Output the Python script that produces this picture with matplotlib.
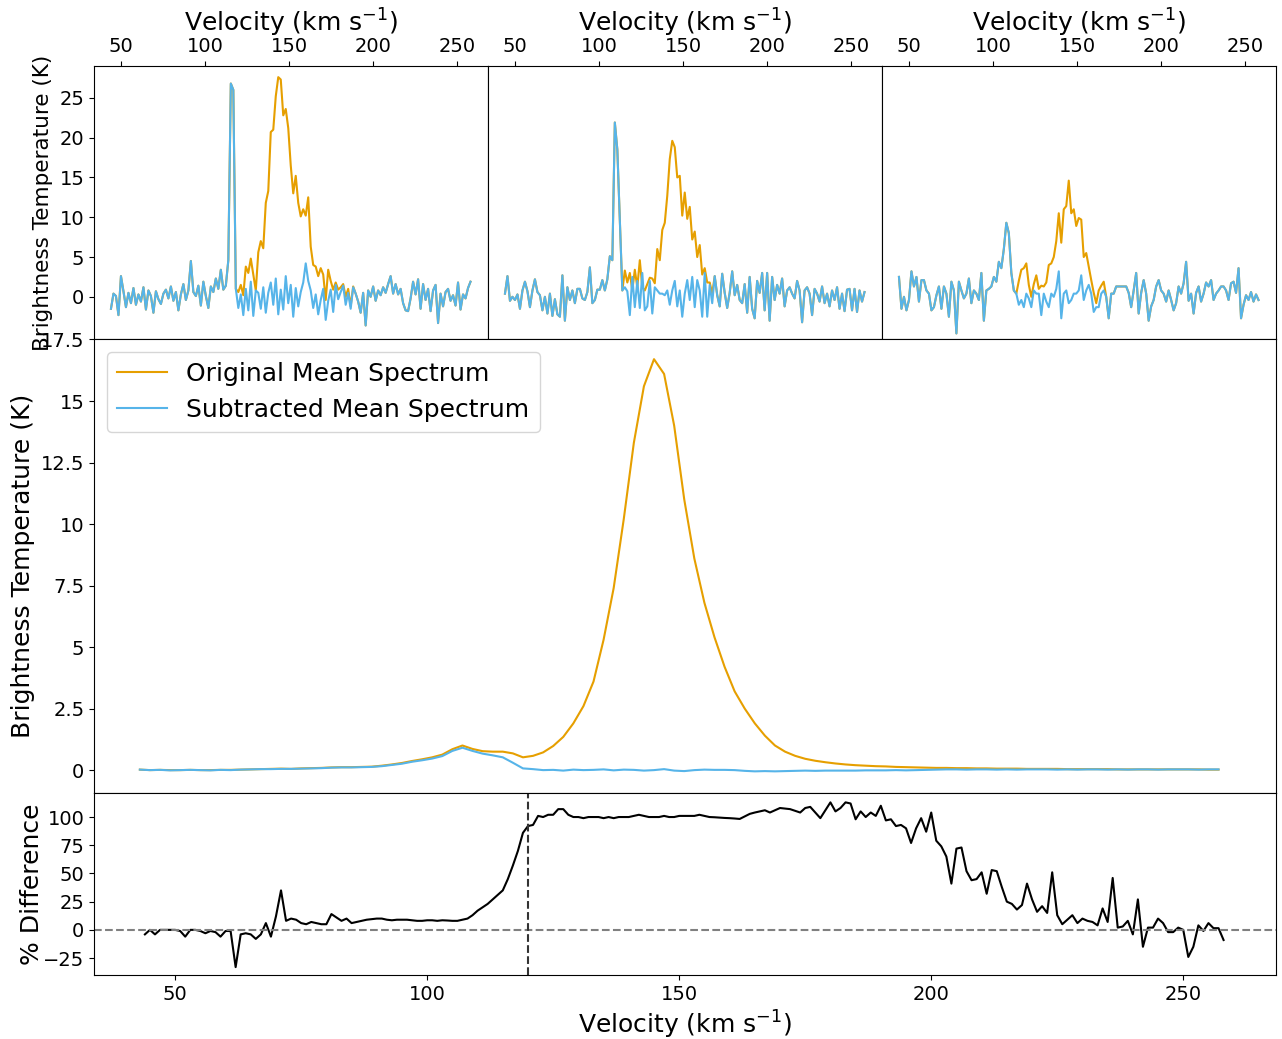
import numpy as np
import matplotlib.pyplot as plt
from matplotlib.ticker import FuncFormatter

ORANGE = "#E69F00"
BLUE = "#56B4E9"
VLABEL = r"Velocity (km s$^{-1}$)"
TLABEL = "Brightness Temperature (K)"

# channel velocities (km/s)
vel_top = np.linspace(44, 258, 145)
vel_mean = np.arange(43, 258, 2)
vel_diff = np.arange(44, 259)

# --- three single-position spectra (K) ---
orig_1 = [
    -1.5, 0.4, 0.1, -2.3, 2.6, 0.7, -1.3, 0.5, -0.8, 1.1,
    -1.0, 0.3, -0.6, 1.2, -1.6, 0.8, 0.1, -2.0, 0.7, -0.3,
    -0.9, 0.4, 0.9, -0.2, 1.3, -0.5, 0.6, -1.7, 0.3, 1.6,
    -0.4, 0.8, 4.5, 0.6, 0.1, 1.4, -1.1, 1.9, 0.1, -1.4,
    1.3, 0.6, 2.3, 1.0, 3.4, 0.9, 1.4, 4.6, 26.8, 26.0,
    1.0, 0.6, 1.5, 0.2, 3.8, 3.0, 4.8, 2.8, 0.8, 5.6,
    7.0, 6.1, 11.8, 13.3, 20.7, 21.0, 25.2, 27.6, 27.3, 22.8,
    23.6, 21.2, 16.5, 13.0, 15.2, 11.8, 10.1, 11.0, 10.2, 12.5,
    6.3, 4.0, 3.8, 2.6, 3.6, 2.8, -0.4, 3.4, 2.0, 0.9,
    1.8, 0.9, 1.2, 1.6, 0.0, 1.0, -1.2, 1.3, 0.4, -0.6,
    -2.0, 0.5, -3.6, 0.8, 0.0, 1.3, -0.5, 0.8, 0.2, 1.2,
    0.5, 1.6, 2.6, 0.4, 1.6, 0.3, 1.0, -0.8, -1.7, -1.8,
    -0.2, 1.9, 0.3, 2.2, -1.5, 1.6, -0.4, 1.0, -1.8, 0.8,
    1.5, -3.3, 0.4, -1.2, 0.6, 1.0, -0.5, 0.2, -1.1, 1.8,
    -1.6, 0.3, -0.2, 1.1, 1.9,
]
sub_1 = [
    -1.5, 0.4, 0.1, -2.3, 2.6, 0.7, -1.3, 0.5, -0.8, 1.1,
    -1.0, 0.3, -0.6, 1.2, -1.6, 0.8, 0.1, -2.0, 0.7, -0.3,
    -0.9, 0.4, 0.9, -0.2, 1.3, -0.5, 0.6, -1.7, 0.3, 1.6,
    -0.4, 0.8, 4.5, 0.6, 0.1, 1.4, -1.1, 1.9, 0.1, -1.4,
    1.3, 0.6, 2.3, 1.0, 3.4, 0.9, 1.4, 4.6, 26.8, 26.0,
    1.0, -1.4, 0.3, -2.3, 1.0, -1.7, 1.9, -2.4, 0.8, 0.5,
    -1.5, 1.2, -2.0, 0.5, 1.8, -1.0, 2.3, -2.2, 0.9, -1.6,
    2.6, -0.8, 1.5, -2.5, 1.1, -1.2, 0.6, 1.8, 4.2, 2.0,
    0.8, -1.4, 0.3, -2.2, -0.4, 1.0, -2.9, -0.5, 0.9, -1.9,
    1.5, -0.3, 0.6, 1.4, -1.0, 0.5, -1.5, 1.2, 0.4, -0.6,
    -2.0, 0.5, -3.6, 0.8, 0.0, 1.3, -0.5, 0.8, 0.2, 1.2,
    0.5, 1.6, 2.6, 0.4, 1.6, 0.3, 1.0, -0.8, -1.7, -1.8,
    -0.2, 1.9, 0.3, 2.2, -1.5, 1.6, -0.4, 1.0, -1.8, 0.8,
    1.5, -3.3, 0.4, -1.2, 0.6, 1.0, -0.5, 0.2, -1.1, 1.8,
    -1.6, 0.3, -0.2, 1.1, 1.9,
]

orig_2 = [
    0.4, 2.6, -0.5, 0.0, -0.4, 0.3, -1.5, 0.8, 1.9, 0.7,
    -1.3, 0.8, 2.2, 0.6, 0.2, -1.7, 0.0, -2.1, 0.4, -2.4,
    -0.3, -2.2, -2.5, 2.7, -3.0, 1.2, -0.4, 0.8, -0.8, 1.0,
    1.0, -0.2, -0.4, 0.6, 3.7, -0.8, -0.4, 0.9, 0.9, 2.1,
    0.8, 2.2, 5.1, 4.6, 21.9, 18.5, 9.5, 0.8, 3.3, 1.8,
    3.0, 0.8, 3.4, 1.2, 4.6, 1.2, 0.8, 1.6, 2.4, 2.3,
    1.7, 6.0, 4.6, 8.4, 9.3, 12.7, 17.3, 19.6, 18.8, 15.0,
    15.2, 10.2, 13.1, 9.8, 11.3, 7.2, 8.2, 5.0, 6.5, 2.8,
    3.6, 1.8, 1.8, 0.4, 2.6, 0.2, -1.2, 2.9, 0.5, -1.4,
    0.5, 3.2, 0.2, 1.5, -0.4, -0.8, 1.6, -2.0, 2.5, -1.5,
    -2.7, 2.0, 0.5, 3.0, -1.7, 3.0, -3.0, 2.5, -0.4, 1.5,
    0.4, 2.3, -1.2, 0.8, 1.2, 0.4, -0.2, 2.0, 0.8, -3.2,
    0.8, 1.2, 0.4, -2.3, 1.0, 0.4, -0.6, 1.3, -0.8, 0.4,
    -1.2, 0.8, -0.4, 1.2, -1.5, 0.4, -1.8, 0.9, 1.0, -1.7,
    1.0, -1.9, 0.8, -0.6, 0.6,
]
sub_2 = [
    0.4, 2.6, -0.5, 0.0, -0.4, 0.3, -1.5, 0.8, 1.9, 0.7,
    -1.3, 0.8, 2.2, 0.6, 0.2, -1.7, 0.0, -2.1, 0.4, -2.4,
    -0.3, -2.2, -2.5, 2.7, -3.0, 1.2, -0.4, 0.8, -0.8, 1.0,
    1.0, -0.2, -0.4, 0.6, 3.7, -0.8, -0.4, 0.9, 0.9, 2.1,
    0.8, 2.2, 5.1, 4.6, 21.9, 18.5, 9.5, 0.8, 1.2, 0.7,
    -2.3, 2.5, -1.3, 2.0, -1.4, 3.0, -1.7, -1.2, 2.0, -2.1,
    1.2, 0.8, 0.4, 0.4, 0.2, 0.8, -1.0, 0.8, 2.0, -1.2,
    0.8, -2.5, 0.4, 2.1, -0.4, 2.5, -1.3, 2.1, 0.8, -2.5,
    3.0, -2.5, 1.5, -0.8, 2.6, 0.2, -1.2, 2.9, 0.5, -1.4,
    0.5, 3.2, 0.2, 1.5, -0.4, -0.8, 1.6, -2.0, 2.5, -1.5,
    -2.7, 2.0, 0.5, 3.0, -1.7, 3.0, -3.0, 2.5, -0.4, 1.5,
    0.4, 2.3, -1.2, 0.8, 1.2, 0.4, -0.2, 2.0, 0.8, -3.2,
    0.8, 1.2, 0.4, -2.3, 1.0, 0.4, -0.6, 1.3, -0.8, 0.4,
    -1.2, 0.8, -0.4, 1.2, -1.5, 0.4, -1.8, 0.9, 1.0, -1.7,
    1.0, -1.9, 0.8, -0.6, 0.6,
]

orig_3 = [
    2.5, -1.5, 0.0, -1.7, -0.4, 3.2, 1.3, 2.5, -0.6, 2.1,
    2.1, 0.8, 0.4, -1.7, -1.3, 0.2, 1.3, -1.5, 1.3, 0.4,
    -2.5, 1.9, 0.8, -4.6, 1.9, 0.8, -0.2, 0.4, 2.3, -0.8,
    0.8, 0.4, -0.4, 3.0, -3.0, 0.8, 1.0, 1.3, 2.5, 1.9,
    4.4, 3.6, 6.0, 9.3, 8.0, 3.0, 0.8, 0.4, 2.0, 3.4,
    3.6, 4.2, 1.5, 0.0, 1.6, 2.7, 1.0, 1.4, 1.3, 1.8,
    4.0, 4.2, 5.0, 7.0, 10.5, 6.8, 11.0, 11.4, 14.6, 10.5,
    11.0, 8.9, 9.9, 9.7, 5.0, 5.5, 3.8, 2.1, 0.5, -0.8,
    0.8, 1.4, 1.9, 0.0, -2.7, 0.4, 0.4, 1.3, 1.3, 1.3,
    1.3, 1.3, 0.5, -1.3, 0.8, 3.0, -2.1, 0.5, 2.1, 0.4,
    -3.0, -1.2, -0.4, 1.3, 2.1, 0.8, 0.4, -0.6, 0.8, -0.4,
    -1.7, -0.8, 1.3, 0.4, 1.7, 4.4, -0.5, 0.4, -2.1, 0.5,
    1.3, -0.6, 0.4, 1.8, 1.3, 2.1, -0.4, 0.4, 0.8, 1.3,
    1.3, 0.8, -0.4, 1.7, 1.9, 0.5, 3.6, -2.7, -1.0, 0.2,
    -0.4, 0.6, -0.6, 0.3, -0.4,
]
sub_3 = [
    2.5, -1.5, 0.0, -1.7, -0.4, 3.2, 1.3, 2.5, -0.6, 2.1,
    2.1, 0.8, 0.4, -1.7, -1.3, 0.2, 1.3, -1.5, 1.3, 0.4,
    -2.5, 1.9, 0.8, -4.6, 1.9, 0.8, -0.2, 0.4, 2.3, -0.8,
    0.8, 0.4, -0.4, 3.0, -3.0, 0.8, 1.0, 1.3, 2.5, 1.9,
    4.4, 3.6, 6.0, 9.3, 8.0, 3.0, 0.8, 0.4, -1.0, -0.4,
    -1.3, 0.4, -0.2, -1.3, 0.8, 0.4, 0.4, -2.3, 0.4, -0.6,
    -1.3, 0.4, 0.0, 1.0, 3.2, -2.7, 0.4, 0.8, -0.8, -0.4,
    0.4, 0.4, 0.8, 2.7, -0.4, 0.8, 1.5, 0.4, -1.9, -1.3,
    -1.3, 0.4, 0.8, 0.0, -2.7, 0.4, 0.4, 1.3, 1.3, 1.3,
    1.3, 1.3, 0.5, -1.3, 0.8, 3.0, -2.1, 0.5, 2.1, 0.4,
    -3.0, -1.2, -0.4, 1.3, 2.1, 0.8, 0.4, -0.6, 0.8, -0.4,
    -1.7, -0.8, 1.3, 0.4, 1.7, 4.4, -0.5, 0.4, -2.1, 0.5,
    1.3, -0.6, 0.4, 1.8, 1.3, 2.1, -0.4, 0.4, 0.8, 1.3,
    1.3, 0.8, -0.4, 1.7, 1.9, 0.5, 3.6, -2.7, -1.0, 0.2,
    -0.4, 0.6, -0.6, 0.3, -0.4,
]

# --- mean spectra over the map (K) ---
orig_mean = [
    0.02, 0.0, 0.01, 0.0, 0.0, 0.01, 0.0, 0.0, 0.01, 0.01,
    0.02, 0.03, 0.04, 0.05, 0.06, 0.05, 0.07, 0.08, 0.09, 0.11,
    0.12, 0.12, 0.13, 0.14, 0.18, 0.23, 0.29, 0.37, 0.44, 0.52,
    0.63, 0.85, 1.0, 0.86, 0.77, 0.75, 0.75, 0.68, 0.52, 0.58,
    0.72, 0.98, 1.35, 1.9, 2.6, 3.6, 5.3, 7.4, 10.2, 13.3,
    15.6, 16.7, 16.1, 14.0, 11.0, 8.6, 6.8, 5.4, 4.2, 3.2,
    2.5, 1.9, 1.4, 1.0, 0.75, 0.58, 0.46, 0.38, 0.32, 0.27,
    0.23, 0.2, 0.18, 0.16, 0.15, 0.13, 0.12, 0.11, 0.1, 0.09,
    0.09, 0.08, 0.08, 0.07, 0.07, 0.06, 0.06, 0.06, 0.05, 0.05,
    0.05, 0.05, 0.04, 0.04, 0.04, 0.04, 0.04, 0.03, 0.03, 0.03,
    0.03, 0.03, 0.03, 0.03, 0.03, 0.03, 0.02, 0.02,
]
sub_mean = [
    0.02, 0.0, 0.01, -0.01, 0.0, 0.01, 0.0, -0.01, 0.01, 0.0,
    0.02, 0.03, 0.04, 0.04, 0.05, 0.05, 0.06, 0.07, 0.08, 0.1,
    0.11, 0.11, 0.12, 0.13, 0.16, 0.21, 0.26, 0.34, 0.4, 0.47,
    0.57, 0.78, 0.91, 0.78, 0.67, 0.6, 0.52, 0.3, 0.07, 0.04,
    0.0, 0.01, -0.02, 0.02, 0.0, 0.01, 0.03, -0.01, 0.02, 0.01,
    -0.02, 0.0, 0.04, -0.02, -0.04, 0.0, 0.02, 0.01, 0.01, 0.0,
    -0.03, -0.05, -0.04, -0.05, -0.04, -0.03, -0.02, -0.03, -0.02, -0.02,
    -0.02, -0.02, -0.01, -0.01, -0.01, 0.0, -0.01, 0.0, 0.01, 0.02,
    0.03, 0.03, 0.02, 0.03, 0.03, 0.02, 0.03, 0.02, 0.03, 0.03,
    0.03, 0.02, 0.03, 0.02, 0.03, 0.03, 0.02, 0.03, 0.02, 0.03,
    0.03, 0.02, 0.03, 0.03, 0.03, 0.02, 0.03, 0.03,
]

# --- percentage difference of the mean spectra ---
pct_diff = [
    -4, 0, -4, 0, 0, 0, 0, -1, -6, 0,
    0, -1, -3, -1, -2, -6, -1, -1, -33, -4,
    -3, -4, -8, -4, 6, -6, 12, 35, 8, 10,
    9, 6, 5, 7, 6, 5, 5, 14, 11, 8,
    10, 6, 7, 8, 9, 9.5, 10, 10, 9, 8.5,
    9, 9, 9, 8.5, 8, 8, 8.5, 8.5, 8, 8.5,
    8.3, 8, 8, 9, 10, 13, 17, 20, 23, 27,
    31, 35, 45, 57, 70, 86, 92, 93, 101, 100,
    102, 102, 107, 107, 102, 100, 100, 99, 100, 100,
    100, 99, 100, 99, 100, 100, 100, 101, 102, 101,
    100, 100, 100, 101, 100, 100, 101, 101, 101, 101,
    102, 101, 100, 99.8, 99.5, 99.2, 99, 98.7, 98.3, 100.5,
    102.8, 104, 105, 106, 104, 106, 108, 107.5, 107, 105.5,
    104, 108, 109, 104, 99, 106, 113, 105, 108, 113,
    112, 98, 105, 100, 104, 101, 110, 97, 98, 92,
    93, 90, 77, 90, 99, 87, 104, 79, 74, 65,
    41, 72, 73, 52, 44, 45, 51, 32, 53, 52,
    38, 25, 23, 18, 22, 41, 27, 16, 21, 15,
    51, 13, 5, 9, 13, 6, 10, 8, 7, 4,
    19, 7, 46, 2, 3, 8, -4, 27, -15, 2,
    2, 10, 6, -2, -2, 2, 0, -24, -15, 4,
    -1, 6, 1.5, 1.5, -9,
]
v_cut = 120  # km/s

XLIM = (33.9, 268.4)
TICK_FS = 14
LABEL_FS = 18

fig = plt.figure(figsize=(12.82, 10.39), dpi=100)

W = 1282.0
H = 1039.0
def box(x0, y0, x1, y1):
    return [x0 / W, 1 - y1 / H, (x1 - x0) / W, (y1 - y0) / H]

top_axes = []
edges = [94, 488, 882, 1276]
for k in range(3):
    ax = fig.add_axes(box(edges[k], 66, edges[k + 1], 339))
    top_axes.append(ax)

for ax, orig, sub in zip(top_axes, [orig_1, orig_2, orig_3], [sub_1, sub_2, sub_3]):
    ax.plot(vel_top, orig, color=ORANGE, lw=1.5)
    ax.plot(vel_top, sub, color=BLUE, lw=1.5)
    ax.set_xlim(*XLIM)
    ax.set_ylim(-5.3, 29.0)
    ax.set_xticks([50, 100, 150, 200, 250])
    ax.set_yticks([0, 5, 10, 15, 20, 25])
    ax.xaxis.tick_top()
    ax.xaxis.set_label_position("top")
    ax.set_xlabel(VLABEL, fontsize=LABEL_FS, labelpad=4)
    ax.tick_params(labelsize=TICK_FS)

top_axes[0].set_ylabel(TLABEL, fontsize=15.5)
top_axes[0].yaxis.set_label_coords(-0.105, 0.5)
for ax in top_axes[1:]:
    ax.tick_params(left=False, labelleft=False)

# mean spectra
ax_m = fig.add_axes(box(94, 339, 1276, 793))
ax_m.plot(vel_mean, orig_mean, color=ORANGE, lw=1.5, label="Original Mean Spectrum")
ax_m.plot(vel_mean, sub_mean, color=BLUE, lw=1.5, label="Subtracted Mean Spectrum")
ax_m.set_xlim(*XLIM)
ax_m.set_ylim(-0.93, 17.52)
ax_m.set_yticks([0, 2.5, 5, 7.5, 10, 12.5, 15, 17.5])
ax_m.yaxis.set_major_formatter(FuncFormatter(lambda v, p: f"{v:g}"))
ax_m.tick_params(bottom=False, labelbottom=False, labelsize=TICK_FS)
ax_m.set_ylabel(TLABEL, fontsize=LABEL_FS)
ax_m.yaxis.set_label_coords(-0.050, 0.5)
ax_m.legend(loc="upper left", fontsize=18)

# percentage difference
ax_d = fig.add_axes(box(94, 793, 1276, 975))
ax_d.plot(vel_diff, pct_diff, color="black", lw=1.5)
ax_d.axhline(0, color="gray", ls="--", lw=1.5)
ax_d.axvline(v_cut, color="#333333", ls="--", lw=1.5)
ax_d.set_xlim(*XLIM)
ax_d.set_ylim(-40, 121.3)
ax_d.set_yticks([-25, 0, 25, 50, 75, 100])
ax_d.set_xticks([50, 100, 150, 200, 250])
ax_d.tick_params(labelsize=TICK_FS)
ax_d.set_xlabel(VLABEL, fontsize=LABEL_FS)
ax_d.set_ylabel("% Difference", fontsize=LABEL_FS)
ax_d.yaxis.set_label_coords(-0.042, 0.5)

fig.savefig("out.png", dpi=100)
